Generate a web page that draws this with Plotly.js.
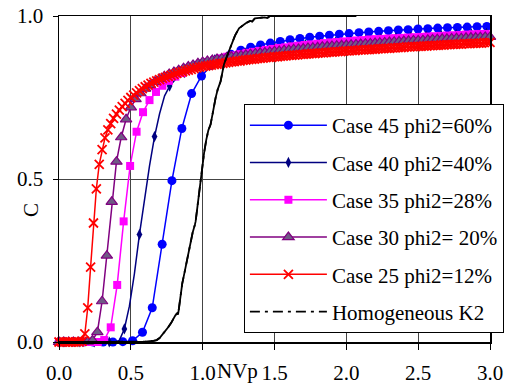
<!DOCTYPE html>
<html>
<head>
<meta charset="utf-8">
<script src="https://cdn.plot.ly/plotly-3.0.1.min.js"></script>
<style>html,body{margin:0;padding:0;background:#fff;}#chart{width:507px;height:384px;}</style>
</head>
<body>
<div id="chart"></div>
<script>
// ---- Data ----
const seriesNames = ["Case 45 phi2=60%", "Case 40 phi2=40%", "Case 35 phi2=28%", "Case 30 phi2= 20%", "Case 25 phi2=12%", "Homogeneous K2"];
const xTickVals = [0, 0.5, 1, 1.5, 2, 2.5, 3];
const yTickVals = [0, 0.5, 1];

const case45X = [0,0.033,0.101,0.17,0.238,0.307,0.375,0.444,0.512,0.581,0.649,0.718,0.786,0.855,0.923,0.992,1.06,1.129,1.197,1.266,1.334,1.403,1.471,1.54,1.608,1.677,1.745,1.814,1.882,1.951,2.019,2.088,2.156,2.225,2.293,2.362,2.43,2.499,2.567,2.636,2.704,2.773,2.841,2.91,2.978,3.047];
const case45C = [0,0,0,0,0,0,0,0.001,0.004,0.03,0.105,0.3,0.495,0.655,0.762,0.816,0.848,0.868,0.883,0.895,0.904,0.911,0.917,0.922,0.927,0.931,0.935,0.938,0.941,0.944,0.946,0.949,0.951,0.953,0.955,0.957,0.958,0.96,0.961,0.963,0.964,0.965,0.966,0.967,0.968,0.969];

const case40X = [0,0.035,0.07,0.105,0.14,0.175,0.21,0.245,0.28,0.315,0.35,0.385,0.42,0.455,0.49,0.525,0.56,0.595,0.63,0.665,0.7,0.735,0.77,0.805,0.84,0.875,0.91,0.945,0.98,1.015,1.05,1.085,1.12,1.155,1.19,1.225,1.26,1.295,1.33,1.365,1.4,1.435,1.47,1.505,1.54,1.575,1.61,1.645,1.68,1.715,1.75,1.785,1.82,1.855,1.89,1.925,1.96,1.995,2.03,2.065,2.1,2.135,2.17,2.205,2.24,2.275,2.31,2.345,2.38,2.415,2.45,2.485,2.52,2.555,2.59,2.625,2.66,2.695,2.73,2.765,2.8,2.835,2.87,2.905,2.94,2.975,3.01];
const case40C = [0,0,0,0,0,0,0,0,0,0,0,0,0.005,0.04,0.11,0.21,0.33,0.44,0.54,0.63,0.7,0.755,0.785,0.803,0.816,0.826,0.835,0.843,0.85,
  0.856,0.861,0.866,0.87,0.874,0.878,0.881,0.884,0.887,0.89,
  0.892,0.895,0.897,0.899,0.901,0.903,0.905,0.907,0.909,0.91,
  0.912,0.913,0.915,0.916,0.918,0.919,0.92,0.921,0.923,0.924,
  0.925,0.926,0.927,0.928,0.929,0.93,0.931,0.932,0.933,0.934,
  0.935,0.936,0.937,0.937,0.938,0.939,0.94,0.941,0.941,0.942,
  0.943,0.944,0.944,0.945,0.946,0.946,0.947,0.948];

const case35X = [0,0.045,0.09,0.135,0.18,0.225,0.27,0.315,0.36,0.405,0.45,0.495,0.54,0.585,0.63,0.675,0.72,0.765,0.81,0.855,0.9,0.945,0.99,1.035,1.08,1.125,1.17,1.215,1.26,1.305,1.35,1.395,1.44,1.485,1.53,1.575,1.62,1.665,1.71,1.755,1.8,1.845,1.89,1.935,1.98,2.025,2.07,2.115,2.16,2.205,2.25,2.295,2.34,2.385,2.43,2.475,2.52,2.565,2.61,2.655,2.7,2.745,2.79,2.835,2.88,2.925,2.97,3.015];
const case35C = [0,0,0,0,0,0,0,0.006,0.045,0.175,0.37,0.54,0.645,0.705,0.742,0.767,0.786,0.801,0.814,0.825,0.835,0.844,0.852,
  0.859,0.865,0.87,0.875,0.879,0.883,0.887,0.89,0.893,0.896,
  0.899,0.902,0.904,0.907,0.909,0.911,0.913,0.915,0.917,0.919,
  0.92,0.922,0.923,0.925,0.926,0.928,0.929,0.93,0.931,0.932,
  0.933,0.934,0.935,0.936,0.937,0.938,0.939,0.94,0.941,0.942,
  0.943,0.944,0.945,0.945,0.946];

const case30X = [0,0.033,0.067,0.1,0.133,0.167,0.2,0.233,0.267,0.3,0.333,0.367,0.4,0.433,0.467,0.5,0.533,0.567,0.6,0.633,0.667,0.7,0.733,0.767,0.8,0.833,0.867,0.9,0.933,0.967,1,1.033,1.067,1.1,1.133,1.167,1.2,1.233,1.267,1.3,1.333,1.367,1.4,1.433,1.467,1.5,1.533,1.567,1.6,1.633,1.667,1.7,1.733,1.767,1.8,1.833,1.867,1.9,1.933,1.967,2,2.033,2.067,2.1,2.133,2.167,2.2,2.233,2.267,2.3,2.333,2.367,2.4,2.433,2.467,2.5,2.533,2.567,2.6,2.633,2.667,2.7,2.733,2.767,2.8,2.833,2.867,2.9,2.933,2.967,3];
const case30C = [0,0,0,0,0,0,0.001,0.005,0.03,0.125,0.265,0.43,0.553,0.628,0.683,0.72,0.745,0.763,0.777,0.788,0.798,0.807,0.815,0.822,0.828,0.834,0.84,0.845,0.85,0.855,0.859,
  0.862,0.865,0.868,0.87,0.873,0.875,0.877,0.879,0.881,0.883,
  0.885,0.887,0.888,0.89,0.892,0.893,0.895,0.896,0.898,0.899,
  0.9,0.902,0.903,0.904,0.906,0.907,0.908,0.909,0.91,0.911,
  0.912,0.913,0.914,0.915,0.916,0.917,0.918,0.919,0.92,0.921,
  0.922,0.923,0.924,0.925,0.925,0.926,0.927,0.928,0.929,0.93,
  0.93,0.931,0.932,0.932,0.933,0.934,0.934,0.935,0.936,0.936];

const case25X = [0,0.02,0.04,0.06,0.08,0.1,0.12,0.14,0.16,0.18,0.2,0.22,0.24,0.26,0.28,0.3,0.32,0.34,0.36,0.38,0.4,0.42,0.44,0.46,0.48,0.5,0.52,0.54,0.56,0.58,0.6,0.62,0.64,0.66,0.68,0.7,0.72,0.74,0.76,0.78,0.8,0.82,0.84,0.86,0.88,0.9,0.92,0.94,0.96,0.98,1,1.02,1.04,1.06,1.08,1.1,1.12,1.14,1.16,1.18,1.2,1.22,1.24,1.26,1.28,1.3,1.32,1.34,1.36,1.38,1.4,1.42,1.44,1.46,1.48,1.5,1.52,1.54,1.56,1.58,1.6,1.62,1.64,1.66,1.68,1.7,1.72,1.74,1.76,1.78,1.8,1.82,1.84,1.86,1.88,1.9,1.92,1.94,1.96,1.98,2,2.02,2.04,2.06,2.08,2.1,2.12,2.14,2.16,2.18,2.2,2.22,2.24,2.26,2.28,2.3,2.32,2.34,2.36,2.38,2.4,2.42,2.44,2.46,2.48,2.5,2.52,2.54,2.56,2.58,2.6,2.62,2.64,2.66,2.68,2.7,2.72,2.74,2.76,2.78,2.8,2.82,2.84,2.86,2.88,2.9,2.92,2.94,2.96,2.98,3];
const case25C = [0,0,0,0,0,0,0,0,0.002,0.025,0.105,0.23,0.365,0.47,0.545,0.59,0.626,0.651,0.67,0.686,0.699,0.711,0.722,0.732,0.741,0.75,0.757,0.764,0.771,0.777,0.783,0.788,0.793,0.797,0.801,0.805,0.809,0.812,0.815,0.818,0.821,0.824,0.827,0.829,0.832,0.834,0.836,0.839,0.841,0.843,0.845,
  0.846,0.848,0.849,0.851,0.852,0.854,0.855,0.856,0.858,0.859,
  0.86,0.862,0.862,0.864,0.865,0.866,0.867,0.868,0.869,0.87,
  0.871,0.872,0.873,0.873,0.875,0.875,0.876,0.877,0.878,0.879,
  0.879,0.88,0.881,0.882,0.882,0.883,0.884,0.885,0.885,0.886,
  0.887,0.887,0.888,0.889,0.889,0.89,0.891,0.891,0.892,0.893,
  0.893,0.894,0.894,0.895,0.896,0.896,0.897,0.897,0.898,0.898,
  0.899,0.9,0.9,0.901,0.901,0.902,0.902,0.903,0.903,0.904,
  0.905,0.905,0.906,0.906,0.907,0.907,0.908,0.908,0.909,0.909,
  0.91,0.91,0.911,0.911,0.912,0.912,0.913,0.913,0.914,0.914,
  0.915,0.915,0.915,0.916,0.916,0.917,0.917,0.918,0.918,0.919];

const homogX = [0,0.5,0.55,0.6,0.65,0.68,0.7,0.72,0.74,0.76,0.78,0.8,0.81,0.823,0.828,0.832,0.836,0.846,0.858,0.87,0.882,0.893,0.905,0.916,0.93,0.946,0.951,0.965,0.975,0.986,0.998,1.01,1.025,1.04,1.055,1.067,1.08,1.09,1.105,1.125,1.137,1.148,1.165,1.183,1.195,1.206,1.225,1.253,1.27,1.283,1.3,1.33,1.345,1.364,1.4,1.43,1.45,1.468,1.6,1.8,2.07];
const homogC = [0,0,0,0.001,0.003,0.006,0.012,0.022,0.033,0.045,0.058,0.076,0.082,0.088,0.084,0.094,0.11,0.152,0.18,0.205,0.232,0.257,0.283,0.31,0.335,0.36,0.37,0.42,0.46,0.503,0.54,0.58,0.62,0.65,0.667,0.69,0.725,0.749,0.775,0.8,0.826,0.851,0.872,0.892,0.91,0.923,0.94,0.962,0.968,0.972,0.978,0.985,0.983,0.993,0.995,0.996,0.994,1,1,1,1];

// ---- Build traces ----
const FONT = 'Liberation Serif, Times New Roman, serif';
const FS = 21;
const navyColors = case40X.map((v, i) => (i === 0 || i % 3 === 1) ? '#000080' : 'rgba(0,0,0,0)');

const traces = [
  {x: case45X, y: case45C, name: seriesNames[0], legendgroup: 'g1', mode: 'lines+markers', cliponaxis: false,
   line: {color: '#0000FF', width: 1.5}, marker: {symbol: 'circle', size: 9, color: '#0000FF'}},
  {x: case40X, y: case40C, name: seriesNames[1], legendgroup: 'g2', mode: 'lines+markers', cliponaxis: false,
   line: {color: '#000080', width: 1.5}, marker: {symbol: 'diamond-tall', size: 8, color: navyColors}},
  {x: case35X, y: case35C, name: seriesNames[2], legendgroup: 'g3', mode: 'lines+markers', cliponaxis: false,
   line: {color: '#FF00FF', width: 1.5}, marker: {symbol: 'square', size: 8, color: '#FF00FF'}},
  {x: case30X, y: case30C, name: seriesNames[3], legendgroup: 'g4', mode: 'lines+markers', cliponaxis: false,
   line: {color: '#800080', width: 1.5}, marker: {symbol: 'triangle-up', size: 10, color: '#6f5a85', line: {color: '#800080', width: 1.2}}},
  {x: case25X, y: case25C, name: seriesNames[4], legendgroup: 'g5', mode: 'lines+markers', cliponaxis: false,
   line: {color: '#FF0000', width: 1.5}, marker: {symbol: 'x-thin', size: 9, color: '#FF0000', line: {color: '#FF0000', width: 1.8}}},
  {x: homogX, y: homogC, name: seriesNames[5], legendgroup: 'g6', showlegend: false, mode: 'lines',
   line: {color: '#000000', width: 1.8}},
  {x: homogX, y: homogC, name: seriesNames[5], legendgroup: 'g6', mode: 'lines',
   line: {color: '#000000', width: 1.8, dash: '10px,5px,3px,5px'}}
];

const axisCommon = {
  showline: true, linecolor: '#000', linewidth: 1.5, mirror: true,
  showgrid: true, gridcolor: '#444', gridwidth: 1, zeroline: false,
  ticks: 'outside', tickcolor: '#000', tickwidth: 1,
  tickfont: {family: FONT, size: FS, color: '#000'}, tickformat: '.1f'
};

const layout = {
  width: 507, height: 384,
  margin: {l: 59, r: 17, t: 16, b: 42, autoexpand: false},
  paper_bgcolor: '#fff', plot_bgcolor: '#fff',
  font: {family: FONT, size: FS, color: '#000'},
  showlegend: true,
  xaxis: Object.assign({}, axisCommon, {range: [0, 3], tickmode: 'array', tickvals: xTickVals, ticklen: 6, ticklabelstandoff: 5}),
  yaxis: Object.assign({}, axisCommon, {range: [0, 1], tickmode: 'array', tickvals: yTickVals, ticklen: 5, ticklabelstandoff: 5}),
  legend: {
    x: 0.429, y: 0.73, xanchor: 'left', yanchor: 'top',
    bgcolor: '#fff', bordercolor: '#000', borderwidth: 1,
    font: {family: FONT, size: FS, color: '#000'},
    traceorder: 'grouped', tracegroupgap: 7, itemwidth: 77
  },
  annotations: [
    {text: 'C', xref: 'paper', yref: 'paper', x: -0.065, y: 0.405, xanchor: 'center', yanchor: 'middle', showarrow: false, textangle: -90,
     font: {family: FONT, size: FS, color: '#000'}},
    {text: 'NVp', xref: 'paper', yref: 'paper', x: 0.362, y: -0.089, xanchor: 'left', yanchor: 'middle', showarrow: false,
     font: {family: FONT, size: FS, color: '#000'}}
  ]
};

Plotly.newPlot('chart', traces, layout, {displayModeBar: false, staticPlot: true});
</script>
</body>
</html>
